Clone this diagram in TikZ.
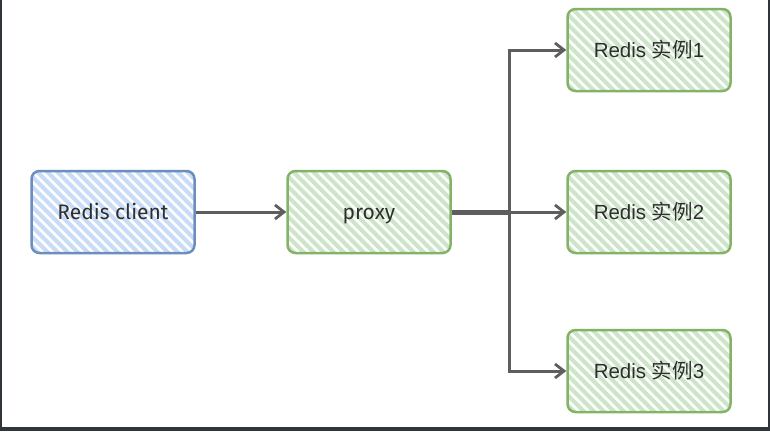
\documentclass[tikz,border=0pt]{standalone}
\usepackage{fontspec}
\setmainfont{Liberation Sans}
\newfontfamily\cjkf{Noto Sans CJK SC}
\newfontfamily\handf{Fira Sans}
\usetikzlibrary{arrows.meta}
\definecolor{bstroke}{HTML}{6C8EBF}
\definecolor{bhatch}{HTML}{C8DCF7}
\definecolor{gstroke}{HTML}{82B366}
\definecolor{ghatch}{HTML}{CDE5C9}
\definecolor{conncol}{HTML}{5E5E5E}
\definecolor{framecol}{HTML}{2F353A}
\tikzset{
  hatch/.style={path picture={\foreach \k in {-110,-100,...,190}{\draw[#1,line width=4.2pt] ([xshift=\k pt,yshift=5pt]path picture bounding box.north west) -- ++(110pt,-110pt);}}},
  box/.style={draw=#1stroke, line width=2.5pt, rounded corners=8pt, minimum width=163pt, minimum height=82pt, inner sep=0pt, hatch=#1hatch, font=\fontsize{20.5}{24}\selectfont, text=black!82},
  handtext/.style={font=\handf\fontsize{21}{24}\selectfont, text height=15pt, text depth=0pt},
  conn/.style={draw=conncol, line width=3pt, -{Straight Barb[length=9pt,width=14pt,line width=2.8pt]}},
}
\begin{document}
\begin{tikzpicture}[x=1pt,y=-1pt]
\useasboundingbox (0,0) rectangle (770,431);
\fill[framecol] (0,0) rectangle (2,431);
\fill[framecol] (768,0) rectangle (770,431);
\fill[framecol] (0,427) rectangle (770,431);
\node[box=b, handtext] (client) at (113,212) {Redis client};
\node[box=g, handtext] (proxy) at (369,212) {proxy};
\node[box=g] (i1) at (649,50) {Redis {\cjkf 实例}1};
\node[box=g] (i2) at (649,212) {Redis {\cjkf 实例}2};
\node[box=g] (i3) at (649,371) {Redis {\cjkf 实例}3};
\coordinate (j) at (509,212);
\draw[conn] (client) -- (proxy);
\draw[draw=conncol, line width=5pt] (proxy.east) -- (j);
\draw[conn] (j) |- (i1);
\draw[conn] (j) -- (i2);
\draw[conn] (j) |- (i3);
\end{tikzpicture}
\end{document}
